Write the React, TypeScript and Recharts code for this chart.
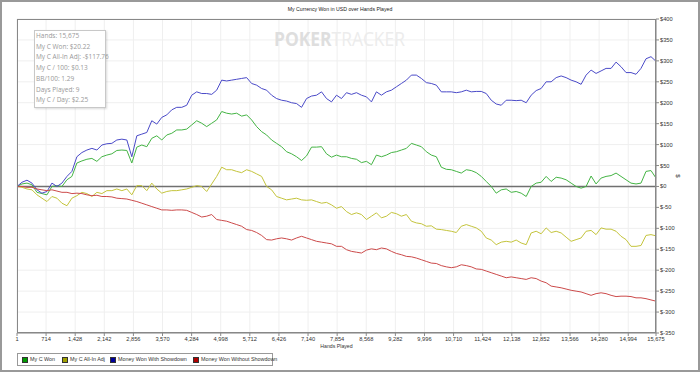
import React from "react";
import {
  CartesianGrid,
  Line,
  LineChart,
  ReferenceLine,
  XAxis,
  YAxis,
} from "recharts";

// hands played at each sample
const hands = [
  1, 123, 246, 368, 491, 613, 736, 858, 981, 1103, 1226, 1348, 1470, 1593,
  1715, 1838, 1960, 2083, 2205, 2328, 2450, 2573, 2695, 2817, 2940, 3062, 3185,
  3307, 3430, 3552, 3675, 3797, 3919, 4042, 4164, 4287, 4409, 4532, 4654, 4777,
  4899, 5022, 5144, 5266, 5389, 5511, 5634, 5756, 5879, 6001, 6124, 6246, 6368,
  6491, 6613, 6736, 6858, 6981, 7103, 7226, 7348, 7471, 7593, 7715, 7838, 7960,
  8083, 8205, 8328, 8450, 8573, 8695, 8817, 8940, 9062, 9185, 9307, 9430, 9552,
  9675, 9797, 9920, 10042, 10164, 10287, 10409, 10532, 10654, 10777, 10899,
  11022, 11144, 11266, 11389, 11511, 11634, 11756, 11879, 12001, 12124, 12246,
  12368, 12491, 12613, 12736, 12858, 12981, 13103, 13226, 13348, 13470, 13593,
  13715, 13838, 13960, 14083, 14205, 14328, 14450, 14573, 14695, 14817, 14940,
  15062, 15185, 15307, 15430, 15552, 15675,
];

const myCWon = [
  0, 6, 8, 4, -14, -17, -20, 0, 2, 0, 16, 24, 56, 61, 65, 67, 60, 71, 75, 78,
  86, 87, 86, 56, 94, 99, 95, 115, 121, 111, 123, 127, 135,
  135, 137, 147, 157, 151, 143, 151, 159, 179, 175, 173, 175, 168, 171, 159,
  143, 131, 123, 111, 103, 95, 83, 78, 71, 62, 73, 94, 94, 95, 78, 70, 75,
  71, 71, 67, 65, 57, 60, 52, 75, 71, 75, 81, 83, 87, 91, 103, 99, 95, 83, 75,
  71, 46, 41, 40, 36, 32, 40, 38, 33, 24, 12, 0, -16,
  -8, -6, -14, -12, -16, -24, 0, 8, 10, 24, 12, 22, 20, 16, 8, 0, -4, 0, 25, 6,
  20, 24, 26, 32, 24, 16, 8, 6, 8, 36, 38, 20,
];

const allInAdj = [
  0, -2, -6, -8, -20, -28, -36, -24, -28, -40, -46, -28, -22, -14, -17, -24,
  -14, -17, -10, -10, -6, -10, -6, -20, 2, 2, -10, 8, -6, -16, -12, -10, -10,
  -8, -6, -2, 2, 0, -12, 6, 24, 46, 40, 40, 36, 33, 40, 36, 30, 24, 0, -8, -24,
  -28, -32, -30, -28, -32, -33, -32, -36, -40, -38, -44, -52,
  -48, -60, -67, -63, -67, -79, -71, -63, -75, -71, -62, -65, -71, -67, -83,
  -87, -89, -95, -94, -102, -103, -105, -107, -110, -95, -91, -95, -99, -107,
  -123, -128, -139,
  -133, -131, -133, -128, -135, -139, -111, -107, -113, -99, -110, -107, -111,
  -121, -131, -127, -123, -107, -105, -115, -99, -102, -102, -107, -119, -127,
  -143, -143, -141, -117, -115, -118,
];

const withShowdown = [
  0, 10, 15, 8, -8, -16, -12, 8, 0, 8, 24, 36, 71, 81, 87, 91, 87, 99, 102,
  103, 111, 113, 111, 71, 121, 125, 129, 157, 149, 165, 171, 183, 189,
  189, 194, 218, 226, 222, 222, 220, 230, 254, 252, 254, 256, 258, 260, 246,
  242, 234, 230, 218, 210, 206, 204, 200, 198, 189, 210, 216, 218, 226, 210,
  202, 218,
  210, 224, 220, 224, 218, 214, 202, 226, 218, 226, 230, 238, 246, 254, 266,
  266, 258, 248, 246, 242, 226, 226, 226, 224, 226, 230, 226, 227, 227, 222,
  206, 197,
  194, 206, 206, 205, 206, 200, 218, 229, 234, 250, 250, 260, 264, 260, 254,
  250, 244, 266, 278, 270, 276, 282, 282, 297, 286, 272, 272, 268, 282, 305,
  310, 299,
];

const withoutShowdown = [
  0, 0, -2, -2, -6, -8, -10, -8, -11, -14, -14, -17, -16, -17, -20, -22, -21,
  -24, -24, -25, -28, -29, -30, -33, -36, -40, -44, -48, -52, -56, -56, -57,
  -56,
  -56, -57, -62, -67, -73, -71, -67, -79, -81, -83, -87, -91, -95, -103, -105,
  -110, -117, -127, -128, -125, -123, -125, -128, -123, -119, -123, -127, -131,
  -133, -135, -137, -143,
  -143, -151, -155, -157, -159, -152, -149, -151, -147, -149, -155, -160, -163,
  -167, -168, -171, -175, -179, -183, -184, -189, -192, -194, -192, -187, -189,
  -192, -197, -198, -202, -206, -210,
  -214, -218, -216, -218, -220, -222, -218, -220, -226, -230, -238, -240, -242,
  -245, -248, -250, -252, -256, -260, -256, -254, -256, -260, -263, -262, -262,
  -263, -266, -266, -268, -271, -274,
];

const xTicks = [
  1, 714, 1428, 2142, 2856, 3570, 4284, 4998, 5712, 6426, 7140, 7854, 8568,
  9282, 9996, 10710, 11424, 12138, 12852, 13566, 14280, 14994, 15675,
];
const yTicks = [
  -350, -300, -250, -200, -150, -100, -50, 0, 50, 100, 150, 200, 250, 300, 350,
  400,
];

const statLines = [
  "Hands: 15,675",
  "My C Won: $20.22",
  "My C All-In Adj: -$117.76",
  "My C / 100: $0.13",
  "BB/100: 1.29",
  "Days Played: 9",
  "My C / Day: $2.25",
];

const legendItems = [
  { name: "My C Won", color: "#009a00", left: 21 },
  { name: "My C All-In Adj", color: "#a0a000", left: 61 },
  { name: "Money Won With Showdown", color: "#00009a", left: 109 },
  { name: "Money Won Without Showdown", color: "#b00000", left: 192 },
];

const rows = hands.map((h, i) => ({
  hands: h,
  myCWon: myCWon[i],
  allInAdj: allInAdj[i],
  withShowdown: withShowdown[i],
  withoutShowdown: withoutShowdown[i],
}));

const tickFont = { fontSize: 5.7, fill: "#333", fontFamily: "Liberation Sans, Arial, sans-serif" };

export default function App() {
  return (
    <div
      style={{
        position: "absolute",
        left: 0,
        top: 0,
        width: 700,
        height: 378,
        background: "#fff",
        fontFamily: "Liberation Sans, Arial, sans-serif",
        overflow: "hidden",
      }}
    >
      <div style={{ position: "absolute", left: 0, top: 0 }}>
        <LineChart
          width={700}
          height={378}
          data={rows}
          margin={{ top: 19, right: 0, bottom: 30, left: 17 }}
        >
          <CartesianGrid stroke="#efefef" />
          <XAxis
            dataKey="hands"
            type="number"
            domain={[1, 15675]}
            ticks={xTicks}
            interval={0}
            height={15}
            tickSize={3}
            tickMargin={1}
            tick={tickFont}
            stroke="#888"
            tickFormatter={(v: number) => v.toLocaleString("en-US")}
            label={{
              value: "Hands Played",
              position: "insideBottom",
              offset: 0,
              fontSize: 5.2,
              fill: "#333",
            }}
          />
          <YAxis
            orientation="right"
            type="number"
            domain={[-350, 400]}
            ticks={yTicks}
            interval={0}
            width={44}
            tickSize={3}
            tickMargin={1}
            tick={tickFont}
            stroke="#888"
            tickFormatter={(v: number) => "$" + v}
            label={{
              value: "$",
              angle: 90,
              position: "center",
              fontSize: 6,
              fill: "#333",
            }}
          />
          <ReferenceLine y={0} stroke="#707070" strokeWidth={1.5} />
          <Line
            dataKey="myCWon"
            name="My C Won"
            stroke="#44b444"
            strokeWidth={1}
            dot={false}
            isAnimationActive={false}
          />
          <Line
            dataKey="allInAdj"
            name="My C All-In Adj"
            stroke="#c4c43c"
            strokeWidth={1}
            dot={false}
            isAnimationActive={false}
          />
          <Line
            dataKey="withShowdown"
            name="Money Won With Showdown"
            stroke="#4a4ac8"
            strokeWidth={1}
            dot={false}
            isAnimationActive={false}
          />
          <Line
            dataKey="withoutShowdown"
            name="Money Won Without Showdown"
            stroke="#cc4a4a"
            strokeWidth={1}
            dot={false}
            isAnimationActive={false}
          />
        </LineChart>
      </div>

      {/* plot frame */}
      <div
        style={{
          position: "absolute",
          left: 17,
          top: 19,
          width: 639,
          height: 314,
          boxSizing: "border-box",
          border: "1px solid #888",
          pointerEvents: "none",
        }}
      />

      {/* title */}
      <div
        style={{
          position: "absolute",
          left: 0,
          top: 6,
          width: 680,
          textAlign: "center",
          fontSize: 5.2,
          color: "#222",
        }}
      >
        My Currency Won in USD over Hands Played
      </div>

      {/* watermark */}
      <div
        style={{
          position: "absolute",
          left: 274,
          top: 28,
          fontFamily: "Open Sans, sans-serif",
          fontSize: 20,
          lineHeight: "22px",
          transform: "scaleX(0.87)",
          transformOrigin: "left top",
          whiteSpace: "nowrap",
        }}
      >
        <span style={{ color: "#dedede", fontWeight: 700 }}>POKER</span>
        <span style={{ color: "#ececec" }}>TRACKER</span>
      </div>

      {/* stats box */}
      <div
        style={{
          position: "absolute",
          left: 34,
          top: 30,
          width: 72,
          height: 78,
          boxSizing: "border-box",
          border: "1px solid #c8c8c8",
          boxShadow: "1px 1px 2px rgba(0,0,0,0.15)",
          background: "#fff",
          padding: "0 0 0 1px",
          fontFamily: "Open Sans, sans-serif",
          fontSize: 6.5,
          lineHeight: "10.7px",
          color: "#999",
          whiteSpace: "nowrap",
        }}
      >
        {statLines.map((s) => (
          <div key={s}>{s}</div>
        ))}
      </div>

      {/* legend */}
      <div
        style={{
          position: "absolute",
          left: 17,
          top: 353,
          width: 256,
          height: 13,
          boxSizing: "border-box",
          border: "1px solid #999",
          background: "#fff",
        }}
      >
        {legendItems.map((it) => (
          <div
            key={it.name}
            style={{
              position: "absolute",
              left: it.left - 17,
              top: 2,
              display: "flex",
              alignItems: "center",
              fontSize: 5.4,
              lineHeight: "7px",
              color: "#333",
              whiteSpace: "nowrap",
            }}
          >
            <span
              style={{
                display: "inline-block",
                width: 4,
                height: 4,
                background: it.color,
                border: "0.5px solid #333",
                marginRight: 2,
              }}
            />
            {it.name}
          </div>
        ))}
      </div>

      {/* outer frame */}
      <div
        style={{
          position: "absolute",
          left: 0,
          top: 0,
          width: 700,
          height: 372,
          boxSizing: "border-box",
          border: "2px solid #999",
          pointerEvents: "none",
        }}
      />
    </div>
  );
}
